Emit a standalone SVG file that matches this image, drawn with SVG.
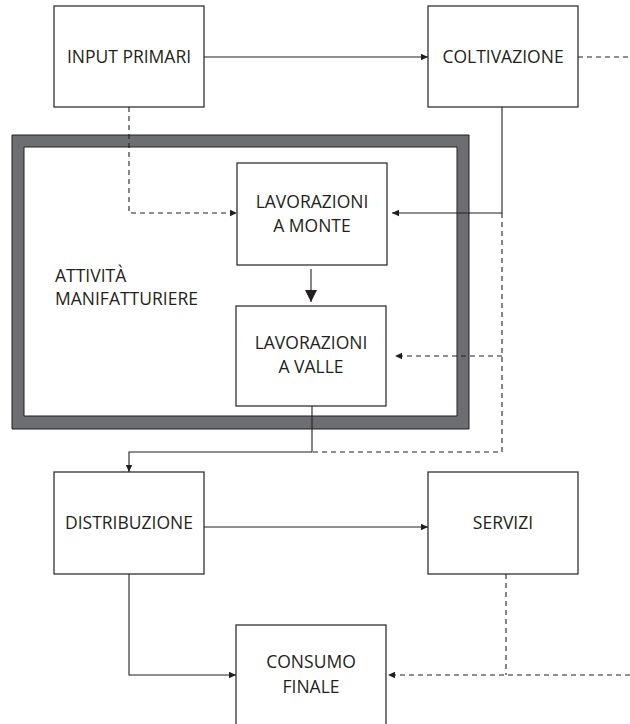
<svg xmlns="http://www.w3.org/2000/svg" width="630" height="724" viewBox="0 0 630 724">
<style>
.box{fill:#fff;stroke:#231f20;stroke-width:1.2}
.t{font-family:"Open Sans","Liberation Sans",sans-serif;font-size:17.5px;fill:#231f20;text-anchor:middle}
.tl{font-family:"Open Sans","Liberation Sans",sans-serif;font-size:17.5px;fill:#231f20}
.c{fill:none;stroke:#231f20;stroke-width:1.1}
.d{fill:none;stroke:#231f20;stroke-width:1.1;stroke-dasharray:5,4}
</style>
<defs>
<marker id="ah" markerWidth="8" markerHeight="8" refX="7" refY="4" orient="auto" markerUnits="userSpaceOnUse">
<path d="M0,0.8 L7,4 L0,7.2 Z" fill="#231f20"/>
</marker>
<marker id="ahb" markerWidth="14" markerHeight="14" refX="12" refY="7" orient="auto" markerUnits="userSpaceOnUse">
<path d="M0,1 L12,7 L0,13 Z" fill="#231f20"/>
</marker>
</defs>
<g id="frame">
<path d="M12,135 H469 V429 H12 Z M24,147 V416 H457 V147 Z" fill="#6d6e71" fill-rule="evenodd" stroke="#231f20" stroke-width="1"/>
</g>
<g id="attivita">
<text class="tl" x="55" y="282">ATTIVITÀ</text>
<text class="tl" x="55" y="305">MANIFATTURIERE</text>
</g>
<g id="input">
<rect class="box" x="54" y="6" width="150" height="101"/>
<text class="t" x="129" y="63">INPUT PRIMARI</text>
</g>
<g id="coltivazione">
<rect class="box" x="428" y="6" width="150" height="101"/>
<text class="t" x="503" y="63">COLTIVAZIONE</text>
</g>
<g id="monte">
<rect class="box" x="237" y="163" width="150" height="102"/>
<text class="t" x="312" y="208">LAVORAZIONI</text>
<text class="t" x="312" y="232">A MONTE</text>
</g>
<g id="valle">
<rect class="box" x="236" y="306" width="150" height="100"/>
<text class="t" x="311" y="349">LAVORAZIONI</text>
<text class="t" x="311" y="373">A VALLE</text>
</g>
<g id="distribuzione">
<rect class="box" x="54" y="472" width="150" height="102"/>
<text class="t" x="129" y="529">DISTRIBUZIONE</text>
</g>
<g id="servizi">
<rect class="box" x="428" y="472" width="150" height="102"/>
<text class="t" x="503" y="529">SERVIZI</text>
</g>
<g id="consumo">
<rect class="box" x="236" y="625" width="150" height="110"/>
<text class="t" x="311" y="668">CONSUMO</text>
<text class="t" x="311" y="693">FINALE</text>
</g>
<g id="connectors">
<path class="c" d="M204,57 H428" marker-end="url(#ah)"/>
<path class="d" d="M578,57 H630"/>
<path class="d" d="M129,107 V213 H237" marker-end="url(#ah)"/>
<path class="c" d="M502,107 V213 H392" marker-end="url(#ah)"/>
<path class="d" d="M502,213 V452 H313"/>
<path class="d" d="M502,356 H395" marker-end="url(#ah)"/>
<path class="c" d="M311,269 V302" stroke-width="2" marker-end="url(#ahb)"/>
<path class="c" d="M312,406 V452 H129 V472" marker-end="url(#ah)"/>
<path class="c" d="M204,527 H428" marker-end="url(#ah)"/>
<path class="c" d="M129,574 V675 H236" marker-end="url(#ah)"/>
<path class="d" d="M506,574 V675"/>
<path class="d" d="M630,675 H388" marker-end="url(#ah)"/>
</g>
</svg>
